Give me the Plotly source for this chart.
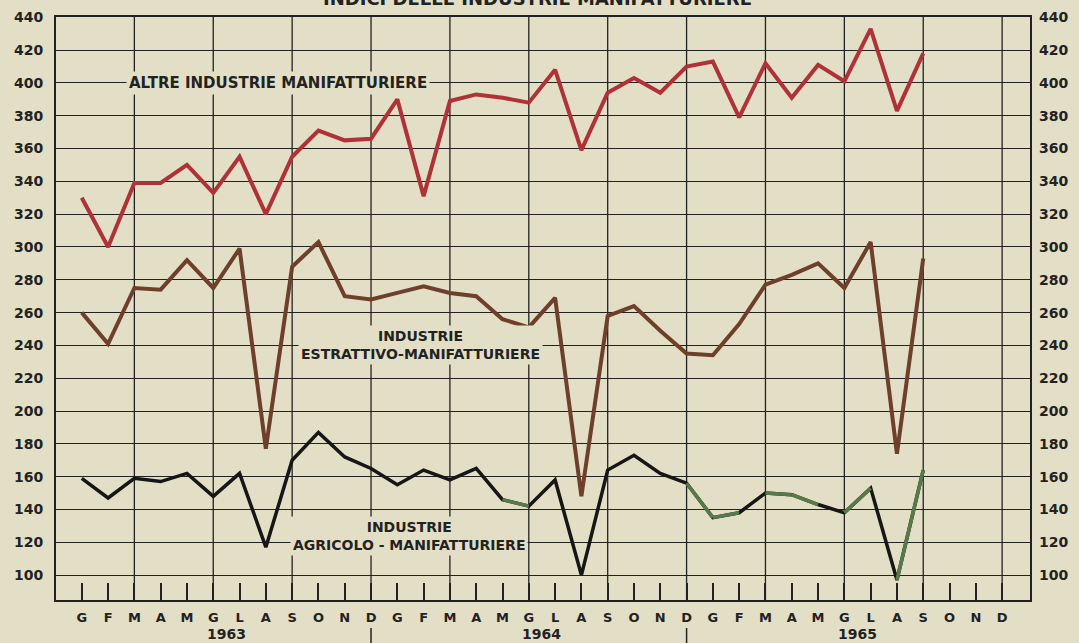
import plotly.graph_objects as go

# mesi 1963-1965 (G F M A M G L A S O N D)
months = ["G", "F", "M", "A", "M", "G", "L", "A", "S", "O", "N", "D"] * 3
years = ["1963", "1964", "1965"]
idx = list(range(33))  # gen 1963 .. set 1965

altre = [330, 300, 339, 339, 350, 333, 355, 320, 355, 371, 365, 366,
         390, 331, 389, 393, 391, 388, 408, 359, 394, 403, 394, 410,
         413, 379, 412, 391, 411, 401, 433, 383, 418]
estrattivo = [260, 241, 275, 274, 292, 275, 299, 177, 288, 303, 270, 268,
              272, 276, 272, 270, 256, 251, 269, 148, 258, 264, 249, 235,
              234, 253, 277, 283, 290, 275, 303, 174, 293]
agricolo = [159, 147, 159, 157, 162, 148, 162, 117, 170, 187, 172, 165,
            155, 164, 158, 165, 146, 142, 158, 100, 164, 173, 162, 156,
            135, 138, 150, 149, 143, 138, 153, 97, 164]

y_ticks = list(range(100, 441, 20))
# tratti della curva agricola stampati in verde
green_segments = [(16, 17), (23, 24), (24, 25), (26, 27), (27, 28), (29, 30), (31, 32)]

BG = "#e3dfc6"
INK = "#222222"
FONT = "DejaVu Sans"

fig = go.Figure()
fig.add_trace(go.Scatter(x=idx, y=altre, mode="lines",
                         line=dict(color="#ae3238", width=4)))
fig.add_trace(go.Scatter(x=idx, y=estrattivo, mode="lines",
                         line=dict(color="#6e3f2a", width=4)))
fig.add_trace(go.Scatter(x=idx, y=agricolo, mode="lines",
                         line=dict(color="#161616", width=3.5)))

gx, gy = [], []
for a, b in green_segments:
    gx += [idx[a], idx[b], None]
    gy += [agricolo[a], agricolo[b], None]
fig.add_trace(go.Scatter(x=gx, y=gy, mode="lines", yaxis="y2",
                         line=dict(color="#587a48", width=3.5)))

# griglia verticale ogni tre mesi
for m in range(2, 36, 3):
    fig.add_vline(x=m, line_color=INK, line_width=1.3, layer="below")

# separatori degli anni
for m in [11, 23]:
    fig.add_shape(type="line", xref="x", yref="paper", x0=m, x1=m,
                  y0=-0.048, y1=-0.08, line=dict(color=INK, width=1.5))

for i, yr in enumerate(years):
    fig.add_annotation(x=12 * i + 5.5, y=-0.058, xref="x", yref="paper",
                       text=yr, showarrow=False, yanchor="middle",
                       font=dict(family=FONT, size=14, color=INK, weight="bold"))

label_font = dict(family=FONT, size=14, color=INK, weight="bold")
fig.add_annotation(x=7.45, y=400, text="ALTRE INDUSTRIE MANIFATTURIERE",
                   showarrow=False, bgcolor=BG, borderpad=2,
                   font=dict(family=FONT, size=15, color=INK, weight="bold"))
fig.add_annotation(x=12.9, y=240, text="INDUSTRIE<br>ESTRATTIVO-MANIFATTURIERE",
                   showarrow=False, bgcolor=BG, borderpad=2, align="center", font=label_font)
fig.add_annotation(x=12.46, y=124, text="INDUSTRIE<br>AGRICOLO - MANIFATTURIERE",
                   showarrow=False, bgcolor=BG, borderpad=2, align="center", font=label_font)

# titolo tagliato in alto come nell'originale
fig.add_annotation(x=0.494, y=1.0103, xref="paper", yref="paper", yanchor="bottom",
                   text="INDICI DELLE INDUSTRIE MANIFATTURIERE", showarrow=False,
                   font=dict(family=FONT, size=18, color=INK, weight="bold"))

tick_font = dict(family=FONT, size=14, color=INK, weight="bold")
fig.update_layout(
    width=1079, height=643,
    margin=dict(l=56, r=49, t=17, b=43),
    paper_bgcolor=BG, plot_bgcolor=BG,
    showlegend=False,
    xaxis=dict(range=[-0.98, 36.06], tickmode="array", tickvals=list(range(36)),
               ticktext=months, ticks="inside", ticklen=17, tickwidth=1.5,
               tickcolor=INK, showgrid=False, zeroline=False, showline=True,
               linecolor=INK, linewidth=2, mirror=True, ticklabelstandoff=4,
               automargin=False,
               tickfont=dict(family=FONT, size=13, color=INK, weight="bold")),
    yaxis=dict(range=[84.8, 440.2], tickmode="array", tickvals=y_ticks,
               showgrid=True, gridcolor=INK, gridwidth=1.3, zeroline=False,
               showline=True, linecolor=INK, linewidth=2, mirror=True,
               ticks="", ticklabelstandoff=8, tickfont=tick_font, automargin=False),
    yaxis2=dict(overlaying="y", side="right", matches="y", tickmode="array",
                tickvals=y_ticks, showgrid=False, zeroline=False, ticks="",
                ticklabelstandoff=8, tickfont=tick_font, automargin=False),
)

fig.write_html("out.html", config={"displayModeBar": False}, post_script=(
    "document.body.style.margin='0';"
    "document.body.style.background='" + BG + "';"))
